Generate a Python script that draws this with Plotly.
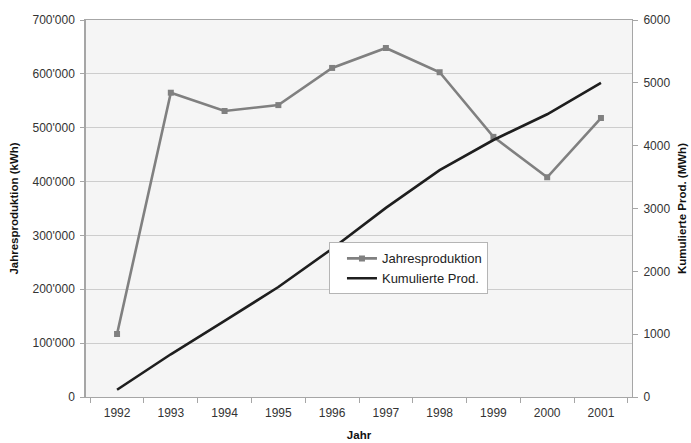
import plotly.graph_objects as go

# Annual and cumulative production of the plant
years = ["1992", "1993", "1994", "1995", "1996", "1997", "1998", "1999", "2000", "2001"]
jahresproduktion_kwh = [117000, 565000, 531000, 542000, 611000, 648000, 603000, 483000, 408000, 518000]
kumuliert_mwh = [115, 680, 1210, 1750, 2360, 3010, 3610, 4090, 4500, 5000]

left_ticks = [0, 100000, 200000, 300000, 400000, 500000, 600000, 700000]
right_ticks = [0, 1000, 2000, 3000, 4000, 5000, 6000]

FONT = "Liberation Sans, Arial, sans-serif"
AXIS_GREY = "#a6a6a6"
TICK_FONT = dict(family=FONT, size=12, color="#333333")
TITLE_FONT = dict(family=FONT, size=11.5, color="#111111", weight="bold")

fig = go.Figure()

fig.add_trace(go.Scatter(
    x=years, y=jahresproduktion_kwh, name="Jahresproduktion",
    mode="lines+markers",
    line=dict(color="#808080", width=2.6),
    marker=dict(symbol="square", size=6, color="#808080"),
    yaxis="y",
))

fig.add_trace(go.Scatter(
    x=years, y=kumuliert_mwh, name="Kumulierte Prod.",
    mode="lines",
    line=dict(color="#1e1e1e", width=2.6),
    yaxis="y2",
))

fig.update_layout(
    width=691, height=443,
    margin=dict(l=86, r=59, t=20, b=46),
    paper_bgcolor="white",
    plot_bgcolor="#f5f5f5",
    separators=".'",
    font=dict(family=FONT, size=12, color="#333333"),
    xaxis=dict(
        type="category",
        automargin=False,
        tickson="boundaries",
        ticks="outside", ticklen=5, tickcolor=AXIS_GREY,
        ticklabelstandoff=5,
        showline=True, linecolor=AXIS_GREY, linewidth=1, mirror=True,
        showgrid=False,
        tickfont=TICK_FONT,
        title=dict(text="Jahr", font=TITLE_FONT, standoff=11),
    ),
    yaxis=dict(
        range=[0, 700000],
        automargin=False,
        tickvals=left_ticks, tickformat=",d",
        ticks="outside", ticklen=4, tickcolor=AXIS_GREY,
        ticklabelstandoff=3,
        showline=True, linecolor=AXIS_GREY, linewidth=1.5,
        showgrid=True, gridcolor="#cdcdcd", gridwidth=1,
        zeroline=False,
        tickfont=TICK_FONT,
        title=dict(text="Jahresproduktion (kWh)", font=TITLE_FONT, standoff=11),
    ),
    yaxis2=dict(
        range=[0, 6000],
        automargin=False,
        tickvals=right_ticks, tickformat="d",
        overlaying="y", side="right",
        ticks="outside", ticklen=5, tickcolor=AXIS_GREY,
        ticklabelstandoff=3,
        showline=True, linecolor=AXIS_GREY, linewidth=1,
        showgrid=False, zeroline=False,
        tickfont=TICK_FONT,
        title=dict(text="Kumulierte Prod. (MWh)", font=TITLE_FONT, standoff=8),
    ),
    legend=dict(
        x=0.445, y=0.41, xanchor="left", yanchor="top",
        bgcolor="white", bordercolor="#b5b5b5", borderwidth=1,
        font=dict(family=FONT, size=13, color="#222222"),
        itemwidth=30,
        indentation=12,
        tracegroupgap=0,
    ),
    showlegend=True,
)

fig.write_html("out.html")
